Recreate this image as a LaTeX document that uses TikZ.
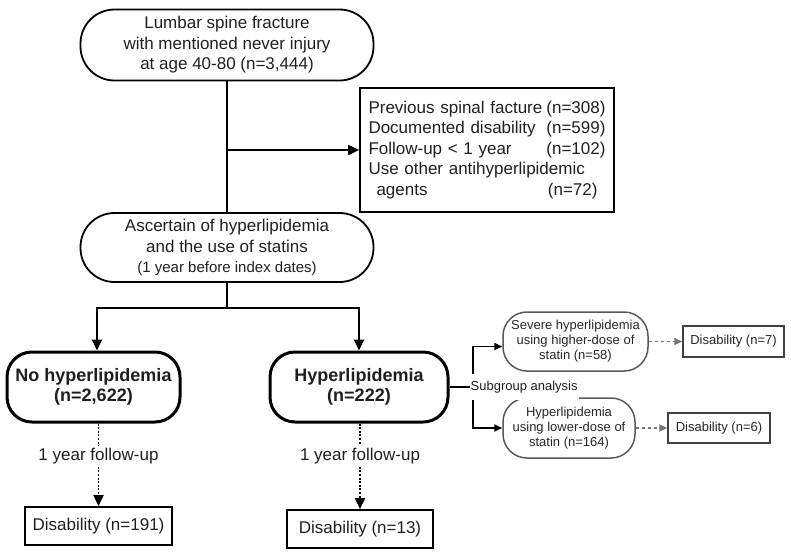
\documentclass[tikz,border=0pt]{standalone}
\usepackage{fontspec}
\setmainfont{Liberation Sans}
\usetikzlibrary{arrows.meta}
\begin{document}
\begin{tikzpicture}[x=1pt,y=-1pt,
  every node/.style={inner sep=0pt, align=center, text=black!88},
  bigfont/.style={font=\fontsize{17}{20.5}\selectfont},
  smallfont/.style={font=\fontsize{13}{15}\selectfont},
  mainround/.style={draw, line width=1.8pt, rounded corners=34pt, bigfont},
  groupbox/.style={draw, line width=3pt, rounded corners=25pt, font=\fontsize{18}{20}\selectfont\bfseries},
  plainbox/.style={draw, line width=1.7pt, bigfont},
  subround/.style={draw=black!65, line width=1.5pt, rounded corners=24pt, smallfont, text=black!85},
  subbox/.style={draw=black!75, line width=1.5pt, smallfont, text=black!85},
  conn/.style={line width=1.8pt},
  bigarrow/.style={conn, -{Triangle[length=11pt,width=10pt]}},
  dotarrow/.style={line width=1.8pt, dash pattern=on 2pt off 1.6pt, -{Triangle[length=11pt,width=10pt]}},
  smallarrow/.style={line width=1.6pt, -{Triangle[length=8pt,width=7pt]}},
  grayarrow/.style={draw=black!55, line width=1.8pt, dash pattern=on 3.5pt off 2.5pt, -{Triangle[length=8pt,width=7pt]}, fill=black!55},
  ]
\useasboundingbox (0,0) rectangle (791,557);

% nodes
\node[mainround, minimum width=293pt, minimum height=71pt] (top) at (227,45)
  {Lumbar spine fracture\\with mentioned never injury\\at age 40-80 (n=3,444)};
\node[plainbox, minimum width=254pt, minimum height=124pt, text width=237pt, align=left] (excl) at (487,150)
  {Previous spinal facture\hfill(n=308)\\
   Documented disability\hfill(n=599)\\
   Follow-up {<} 1 year\hfill(n=102)\\
   Use other antihyperlipidemic\\
   \hspace*{8pt}agents\hfill(n=72)\hspace*{8pt}};
\node[mainround, minimum width=293pt, minimum height=69pt] (asc) at (227,247.5)
  {Ascertain of hyperlipidemia\\and the use of statins\\{\fontsize{15}{18}\selectfont(1 year before index dates)}};
\node[groupbox, minimum width=173pt, minimum height=70pt] (nohyp) at (93.5,387)
  {No hyperlipidemia\\(n=2,622)};
\node[groupbox, minimum width=178pt, minimum height=70pt] (hyp) at (359,387)
  {Hyperlipidemia\\(n=222)};
\node[plainbox, minimum width=147pt, minimum height=38pt] (dis191) at (98.5,526)
  {Disability (n=191)};
\node[plainbox, minimum width=146pt, minimum height=38pt] (dis13) at (360,529)
  {Disability (n=13)};
\node[subround, minimum width=145pt, minimum height=59pt] (severe) at (575.5,341.5)
  {Severe hyperlipidemia\\using higher-dose of\\statin (n=58)};
\node[subround, minimum width=132pt, minimum height=60pt] (lower) at (569,428)
  {Hyperlipidemia\\using lower-dose of\\statin (n=164)};
\node[subbox, minimum width=101pt, minimum height=31pt] (dis7) at (733.5,341.5)
  {Disability (n=7)};
\node[subbox, minimum width=102pt, minimum height=30pt] (dis6) at (719,428)
  {Disability (n=6)};

% connectors
\draw[conn] (top.south) -- (asc.north);
\draw[bigarrow] (top.south |- excl.west) -- (excl.west);
\draw[conn] (asc.south) -- ++(0,25) coordinate (split);
\draw[bigarrow] (split) -| ([xshift=3.5pt]nohyp.north);
\draw[bigarrow] (split) -| (hyp.north);

\draw[dotarrow] (dis191.north |- nohyp.south) -- node[pos=0.4, fill=white, inner ysep=3pt, bigfont] (fu1) {1 year follow-up} (dis191.north);
\draw[dotarrow] (dis13.north |- hyp.south) -- node[pos=0.38, fill=white, inner ysep=3pt, bigfont] (fu2) {1 year follow-up} (dis13.north);

\coordinate (sgx) at (473,387);
\draw[line width=1.6pt] (hyp.east) -- (sgx);
\draw[smallarrow] (sgx) |- ([yshift=-5pt]severe.west);
\draw[smallarrow] (sgx) |- (lower.west);
\node[smallfont, anchor=west, fill=white, inner ysep=7pt, inner xsep=1pt] (sg) at (469.5,387) {Subgroup analysis};

\draw[grayarrow] (severe.east) -- (dis7.west);
\draw[grayarrow] (lower.east) -- (dis6.west);
\end{tikzpicture}
\end{document}
